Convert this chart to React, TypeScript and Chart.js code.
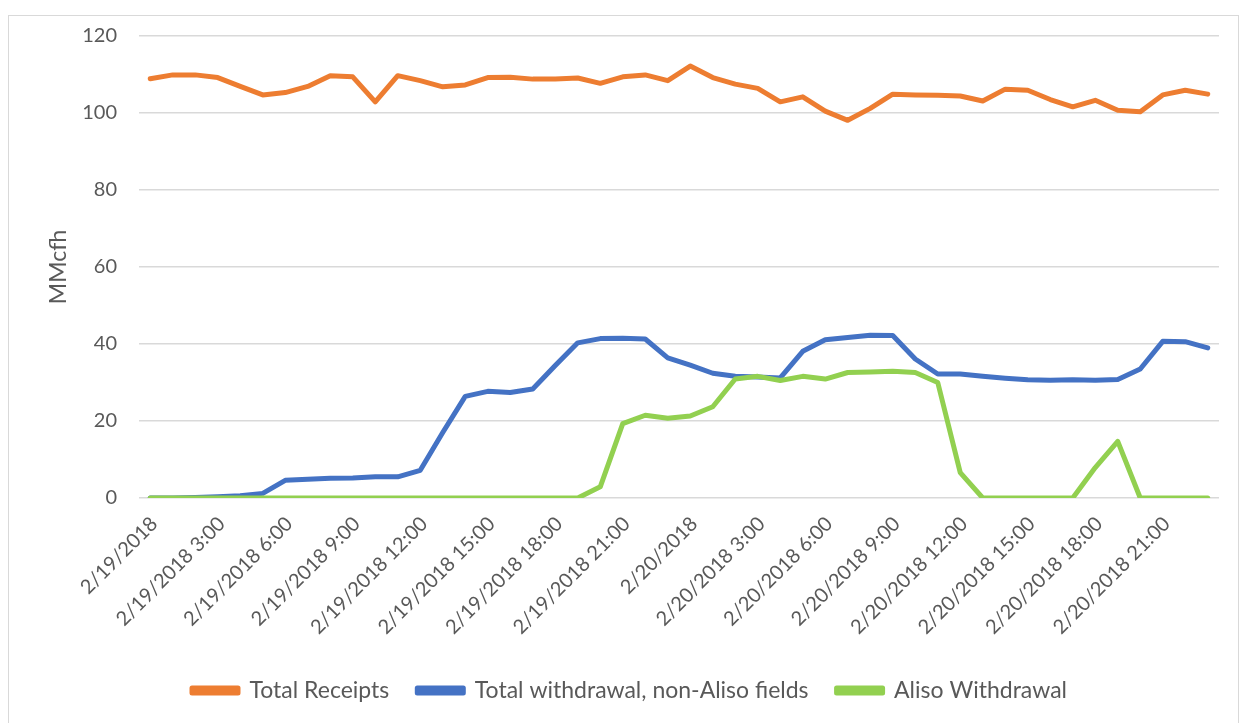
import React, { useEffect, useRef } from "react";
import { Chart, registerables } from "chart.js";

Chart.register(...registerables);

const hours: number[] = Array.from({ length: 24 }, (_, h) => h);
const days = ["2/19/2018", "2/20/2018"];
const categories: string[] = days.flatMap((d) => hours.map((h) => (h === 0 ? d : `${d} ${h}:00`)));

const totalReceipts = [
  108.9, 109.9, 109.9, 109.2, 106.9, 104.7, 105.3, 106.9, 109.7, 109.4, 102.9, 109.7, 108.4, 106.8, 107.3, 109.2,
  109.3, 108.8, 108.8, 109.1, 107.7, 109.4, 109.9, 108.4, 112.2, 109.2, 107.5, 106.4, 102.9, 104.2, 100.5, 98.1,
  101.2, 104.9, 104.7, 104.6, 104.4, 103.1, 106.2, 105.9, 103.5, 101.6, 103.3, 100.7, 100.3, 104.7, 105.9, 104.9,
];

const nonAlisoWithdrawal = [
  0, 0, 0.1, 0.3, 0.6, 1.2, 4.6, 4.9, 5.1, 5.2, 5.5, 5.5, 7.2, 17.0, 26.4, 27.7, 27.4, 28.3, 34.4, 40.3, 41.4, 41.5,
  41.3, 36.4, 34.5, 32.4, 31.6, 31.4, 31.2, 38.1, 41.1, 41.7, 42.3, 42.2, 36.1, 32.2, 32.2, 31.6, 31.1, 30.7, 30.6,
  30.7, 30.6, 30.8, 33.5, 40.7, 40.6, 39.0,
];

const alisoWithdrawal = [
  0, 0, 0, 0, 0, 0, 0, 0, 0, 0, 0, 0, 0, 0, 0, 0, 0, 0, 0, 0, 2.9, 19.3, 21.5, 20.7, 21.3, 23.7, 30.9, 31.6, 30.5,
  31.6, 30.9, 32.6, 32.7, 32.9, 32.6, 30.0, 6.6, 0, 0, 0, 0, 0, 7.9, 14.7, 0, 0, 0, 0,
];

const seriesNames = ["Total Receipts", "Total withdrawal, non-Aliso fields", "Aliso Withdrawal"];
const seriesColors = ["#ED7D31", "#4472C4", "#92D050"];
const yTicks = { min: 0, max: 120, step: 20 };
const yTitle = "MMcfh";

const FONT = "Lato, 'Open Sans', sans-serif";
const TEXT = "#595959";

export default function App() {
  const ref = useRef<HTMLCanvasElement | null>(null);

  useEffect(() => {
    if (!ref.current) return;
    const values = [totalReceipts, nonAlisoWithdrawal, alisoWithdrawal];
    const chart = new Chart(ref.current, {
      type: "line",
      data: {
        labels: categories,
        datasets: values.map((v, i) => ({
          label: seriesNames[i],
          data: v,
          borderColor: seriesColors[i],
          backgroundColor: seriesColors[i],
          borderWidth: 5,
          borderCapStyle: "round",
          borderJoinStyle: "round",
          pointRadius: 0,
          tension: 0,
          order: 3 - i,
        })),
      },
      options: {
        animation: false,
        responsive: false,
        devicePixelRatio: 1,
        layout: { padding: { left: 40, top: 36, right: 31, bottom: 11 } },
        plugins: {
          tooltip: { enabled: false },
          legend: {
            position: "bottom",
            labels: {
              font: { family: FONT, size: 23 },
              color: TEXT,
              boxWidth: 46,
              boxHeight: 5,
              padding: 28,
              sort: (a: any, b: any) => a.datasetIndex - b.datasetIndex,
            },
          },
        },
        scales: {
          x: {
            offset: true,
            grid: { display: false },
            border: { display: false },
            ticks: {
              autoSkip: false,
              minRotation: 45,
              maxRotation: 45,
              padding: 6,
              labelOffset: 4,
              color: TEXT,
              font: { family: FONT, size: 20 },
              callback: (_v: any, i: number) => (i % 3 === 0 ? categories[i] : ""),
            },
            afterFit: (s: any) => {
              s.height = 153;
            },
          },
          y: {
            min: yTicks.min,
            max: yTicks.max,
            border: { display: false },
            grid: { color: "#D9D9D9", lineWidth: 1.5, drawTicks: false },
            ticks: {
              stepSize: yTicks.step,
              padding: 22,
              color: TEXT,
              font: { family: FONT, size: 20 },
            },
            title: {
              display: true,
              text: yTitle,
              color: TEXT,
              font: { family: FONT, size: 23 },
              padding: { top: 5, bottom: 0 },
            },
            afterFit: (s: any) => {
              s.width = 99;
            },
          },
        },
      },
    });
    return () => chart.destroy();
  }, []);

  return (
    <div
      style={{
        position: "fixed",
        left: 0,
        top: 0,
        width: 1250,
        height: 723,
        overflow: "hidden",
        background: "#fff",
      }}
    >
      <div
        style={{
          position: "absolute",
          left: 8,
          top: 15,
          width: 1231,
          height: 760,
          border: "1px solid #D9D9D9",
          boxSizing: "border-box",
        }}
      />
      <canvas ref={ref} width={1250} height={723} style={{ position: "absolute", left: 0, top: 0 }} />
    </div>
  );
}
